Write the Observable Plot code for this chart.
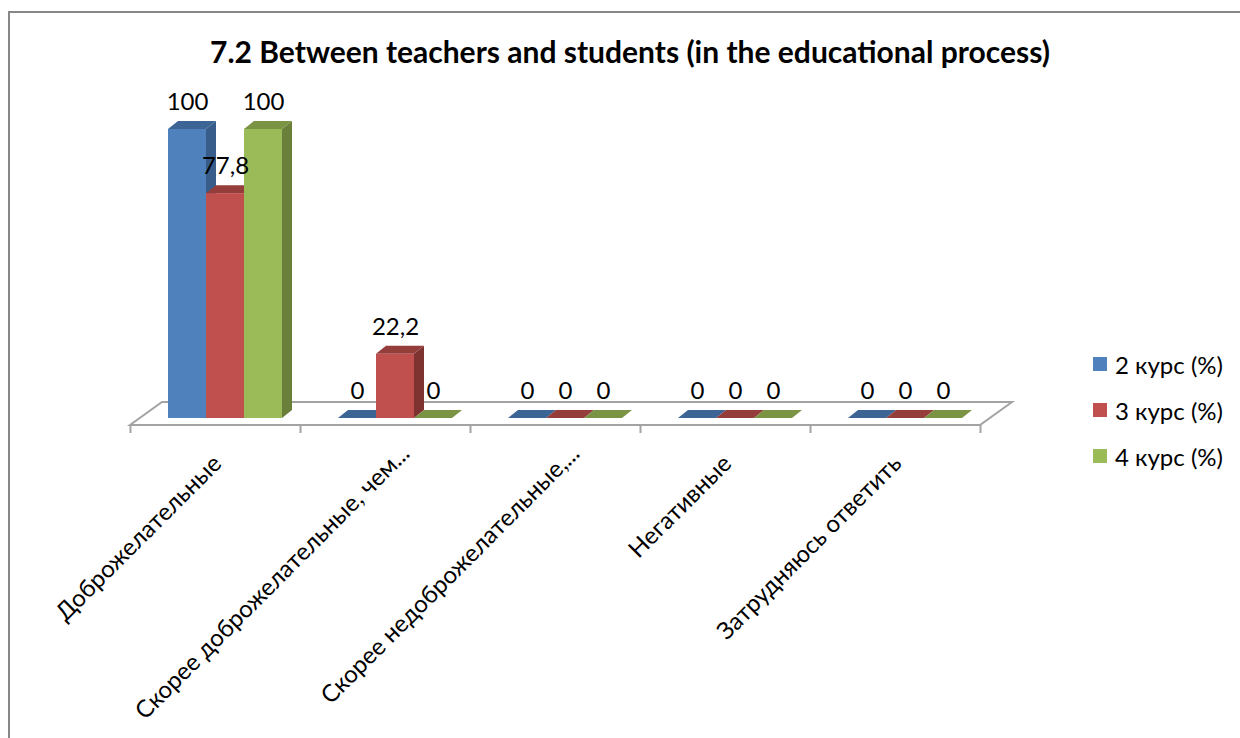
<!DOCTYPE html>
<html>
<head>
<meta charset="utf-8">
<script src="https://cdn.jsdelivr.net/npm/d3@7"></script>
<script src="https://cdn.jsdelivr.net/npm/@observablehq/plot@0.6"></script>
<style>
  html, body { margin: 0; padding: 0; background: #fff; }
  #chart { position: relative; width: 1240px; height: 738px; overflow: hidden; font-family: Lato, "Open Sans", sans-serif; }
  #frame { position: absolute; left: 8px; top: 11px; right: -4px; bottom: -4px; border-left: 2px solid #878787; border-top: 2px solid #878787; }
  #title { position: absolute; left: 0; width: 1260px; top: 33px; text-align: center; font-weight: bold; font-size: 30px; color: #000; white-space: nowrap; }
  #plot { position: absolute; left: 0; top: 0; }
  #legend { position: absolute; left: 1093px; top: 341px; font-size: 24px; color: #000; }
  .item { display: flex; align-items: center; height: 46px; white-space: nowrap; }
  .sw { width: 14px; height: 14px; margin-right: 8px; }
</style>
</head>
<body>
<div id="chart">
  <div id="frame"></div>
  <div id="plot"></div>
  <div id="title">7.2 Between teachers and students (in the educational process)</div>
  <div id="legend"></div>
</div>
<script>
// ---- data ----
const categories = ["Доброжелательные", "Скорее доброжелательные, чем...", "Скорее недоброжелательные,...", "Негативные", "Затрудняюсь ответить"];
const seriesNames = ["2 курс (%)", "3 курс (%)", "4 курс (%)"];
const course2 = [100, 0, 0, 0, 0];
const course3 = [77.8, 22.2, 0, 0, 0];
const course4 = [100, 0, 0, 0, 0];

// ---- styles ----
const frontColors = ["#4f81bd", "#c0504d", "#9bbb59"];
const topColors = ["#3c6494", "#943d3b", "#7a9444"];
const sideColors = ["#385d8a", "#7f3331", "#6a7f3a"];

const seriesValues = [course2, course3, course4];
const rows = [];
categories.forEach((cat, ci) => {
  seriesNames.forEach((s, si) => {
    rows.push({ci, si, cat, series: s, value: seriesValues[si][ci]});
  });
});

const GROUP_PAD = 28 / 170, BAR = 38 / 170;
const bx1 = d => d.ci + GROUP_PAD + d.si * BAR;
const bx2 = d => bx1(d) + BAR;
const FDX = 10, FDY = -7;       // front-face offset from floor front edge
const BDX = 10, BDY = -8;       // bar depth
const FLDX = 32, FLDY = -23;    // floor depth

function floorMark(index, scales) {
  const {x, y} = scales;
  const g = d3.create("svg:g");
  const x0 = x(0), x1 = x(categories.length), y0 = y(0);
  g.append("polygon")
    .attr("points", [[x0, y0], [x1, y0], [x1 + FLDX, y0 + FLDY], [x0 + FLDX, y0 + FLDY]].join(" "))
    .attr("fill", "#fff").attr("stroke", "#a3a3a3").attr("stroke-width", 2);
  return g.node();
}
function sideMark(index, scales) {
  const {x, y} = scales;
  const g = d3.create("svg:g");
  rows.forEach(d => {
    if (!d.value) return;
    const X2 = x(bx2(d)) + FDX, Y0 = y(0) + FDY, Yv = y(d.value) + FDY;
    g.append("polygon")
      .attr("points", [[X2, Y0], [X2, Yv], [X2 + BDX, Yv + BDY], [X2 + BDX, Y0 + BDY]].join(" "))
      .attr("fill", sideColors[d.si]);
  });
  return g.node();
}
function topMark(index, scales) {
  const {x, y} = scales;
  const g = d3.create("svg:g");
  rows.forEach(d => {
    const X1 = x(bx1(d)) + FDX, X2 = x(bx2(d)) + FDX, Yv = y(d.value) + FDY;
    g.append("polygon")
      .attr("points", [[X1, Yv], [X2, Yv], [X2 + BDX, Yv + BDY], [X1 + BDX, Yv + BDY]].join(" "))
      .attr("fill", topColors[d.si]);
  });
  return g.node();
}

const fmt = v => String(v).replace(".", ",");
const catRows = categories.map((c, i) => ({c, i, trunc: c.endsWith("...")}));

const plot = Plot.plot({
  width: 1240,
  height: 738,
  marginLeft: 130,
  marginRight: 260,
  marginTop: 136,
  marginBottom: 313,
  style: {fontFamily: "Lato, 'Open Sans', sans-serif", background: "transparent", overflow: "visible"},
  x: {type: "linear", domain: [0, categories.length], axis: null},
  y: {domain: [0, 100], axis: null},
  marks: [
    floorMark,
    Plot.axisX({ticks: d3.range(categories.length + 1), tickFormat: () => "", tickSize: 8, stroke: "#a3a3a3", strokeWidth: 2, label: null}),
    sideMark,
    topMark,
    Plot.rectY(rows, {x1: bx1, x2: bx2, y: "value", fill: d => frontColors[d.si], dx: FDX, dy: FDY}),
    Plot.text(rows, {x: d => (bx1(d) + bx2(d)) / 2, y: "value", text: d => fmt(d.value), dx: FDX, dy: FDY - 27, fontSize: 24, fill: "#000"}),
    Plot.text(catRows.filter(d => !d.trunc), {x: d => d.i + 0.5, y: () => 0, text: "c", rotate: -45, textAnchor: "end", dx: 2, dy: 34, fontSize: 24, fill: "#000"}),
    Plot.text(catRows.filter(d => d.trunc), {x: d => d.i + 0.5, y: () => 0, text: "c", rotate: -45, textAnchor: "end", dx: 20, dy: 24, fontSize: 24, fill: "#000"})
  ]
});
document.getElementById("plot").appendChild(plot);

const legend = d3.select("#legend");
seriesNames.forEach((s, i) => {
  const it = legend.append("div").attr("class", "item");
  it.append("div").attr("class", "sw").style("background", frontColors[i]);
  it.append("span").text(s);
});
</script>
</body>
</html>
